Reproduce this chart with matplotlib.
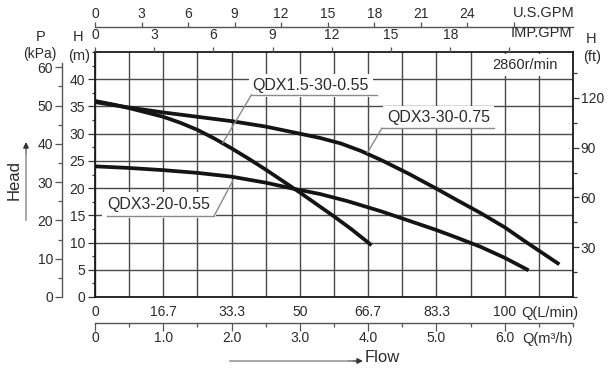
import matplotlib
matplotlib.use('Agg')
import matplotlib.pyplot as plt
from matplotlib.ticker import MultipleLocator

plt.rcParams['font.family'] = ['Liberation Sans', 'DejaVu Sans']

# ---------------- data (flow in m3/h, head in m) ----------------
q_a = [0, 0.25, 0.5, 0.75, 1.0, 1.25, 1.5, 1.75, 2.0, 2.25, 2.5, 2.75, 3.0, 3.25, 3.5, 3.75, 4.05]
h_a = [36.0, 35.4, 34.7, 33.9, 33.1, 32.0, 30.7, 29.1, 27.3, 25.4, 23.4, 21.3, 19.2, 17.0, 14.8, 12.5, 9.5]
name_a = 'QDX1.5-30-0.55'

q_b = [0, 0.5, 1.0, 1.5, 2.0, 2.5, 3.0, 3.3, 3.6, 3.9, 4.2, 4.6, 5.0, 5.3, 5.65, 6.0, 6.3, 6.8]
h_b = [35.8, 34.8, 33.9, 33.1, 32.3, 31.3, 30.0, 29.2, 28.2, 26.8, 25.1, 22.6, 19.9, 17.8, 15.4, 12.8, 10.2, 6.0]
name_b = 'QDX3-30-0.75'

q_c = [0, 0.5, 1.0, 1.5, 2.0, 2.5, 2.9, 3.3, 3.7, 4.2, 4.6, 5.0, 5.3, 5.65, 6.0, 6.35]
h_c = [24.0, 23.7, 23.3, 22.8, 22.1, 21.0, 19.9, 18.9, 17.6, 15.7, 14.0, 12.3, 10.9, 9.2, 7.2, 4.9]
name_c = 'QDX3-20-0.55'

h_ticks = [0, 5, 10, 15, 20, 25, 30, 35, 40]
p_ticks = [0, 10, 20, 30, 40, 50, 60]
ft_ticks = [30, 60, 90, 120]
usgpm_ticks = [0, 3, 6, 9, 12, 15, 18, 21, 24, 27]
usgpm_labels = ['0', '3', '6', '9', '12', '15', '18', '21', '24', '']
imp_ticks = [0, 3, 6, 9, 12, 15, 18, 21]
imp_labels = ['0', '3', '6', '9', '12', '15', '18', '']
lmin_ticks = [0, 100/6, 200/6, 50, 400/6, 500/6, 100]
lmin_labels = ['0', '16.7', '33.3', '50', '66.7', '83.3', '100']
m3h_ticks = [0, 1, 2, 3, 4, 5, 6]
m3h_labels = ['0', '1.0', '2.0', '3.0', '4.0', '5.0', '6.0']
speed_text = '2860r/min'

# unit conversions (as drawn on the chart)
M_TO_FT = 3.2808
M_TO_P = 1.4219
M3H_TO_USGPM = 4.40
M3H_TO_IMP = 3.46
M3H_TO_LMIN = 100 / 6

QMAX, HMAX = 7.0, 45.0

# ---------------- figure layout ----------------
W, H = 613, 368
fig = plt.figure(figsize=(W / 100, H / 100), dpi=100)
L, R, T, B = 95, 573, 52, 297
rect = [L / W, 1 - B / H, (R - L) / W, (B - T) / H]

def px(x, y):
    return x / W, 1 - y / H

TXT = '#2b2b2b'
GRID = '#4a4a4a'
FS = 10

ax = fig.add_axes(rect)
ax.set_xlim(0, QMAX)
ax.set_ylim(0, HMAX)
ax.set_axisbelow(True)
ax.xaxis.set_major_locator(MultipleLocator(0.5))
ax.yaxis.set_major_locator(MultipleLocator(5))
ax.grid(True, color=GRID, lw=1.0)
ax.tick_params(axis='x', length=0, labelbottom=False)
for s in ax.spines.values():
    s.set_linewidth(1.3)
    s.set_color('#1a1a1a')
ax.set_yticks(h_ticks)
ax.yaxis.set_minor_locator(MultipleLocator(2.5))
ax.tick_params(axis='y', which='major', direction='out', length=5, width=0.9,
               pad=2, labelsize=FS, colors='#333333', labelcolor=TXT)
ax.tick_params(axis='y', which='minor', direction='out', length=2.5, width=0.9,
               colors='#333333')

# curves
for q, h in ((q_a, h_a), (q_b, h_b), (q_c, h_c)):
    ax.plot(q, h, color='#141414', lw=2.7, solid_capstyle='butt',
            solid_joinstyle='round', zorder=3)

# curve labels with underline + leader
LEAD = '#8a8a8a'
ax.text(2.31, 38.9, name_a, ha='left', va='center', fontsize=11.5, color=TXT,
        bbox=dict(fc='white', ec='none', pad=3), zorder=4)
ax.plot([2.28, 4.13], [37.1, 37.1], color=LEAD, lw=1.0, zorder=5)
ax.plot([2.29, 1.87], [37.1, 28.3], color=LEAD, lw=1.0, zorder=5)

ax.text(4.28, 33.0, name_b, ha='left', va='center', fontsize=11.5, color=TXT,
        bbox=dict(fc='white', ec='none', pad=3), zorder=4)
ax.plot([4.20, 5.85], [31.0, 31.0], color=LEAD, lw=1.0, zorder=5)
ax.plot([4.20, 3.99], [31.0, 26.5], color=LEAD, lw=1.0, zorder=5)

ax.text(0.18, 16.9, name_c, ha='left', va='center', fontsize=11.5, color=TXT,
        bbox=dict(fc='white', ec='none', pad=4), zorder=4)
ax.plot([0.17, 1.74], [14.8, 14.8], color=LEAD, lw=1.0, zorder=5)
ax.plot([1.74, 2.02], [14.8, 21.4], color=LEAD, lw=1.0, zorder=5)

ax.text(6.77, 42.6, speed_text, ha='right', va='center', fontsize=10.5, color=TXT,
        bbox=dict(fc='white', ec='none', pad=3), zorder=4)

def overlay():
    a = fig.add_axes(rect)
    a.patch.set_visible(False)
    for s in a.spines.values():
        s.set_visible(False)
    a.set_xticks([])
    a.set_yticks([])
    return a

# right ft axis
ax_ft = overlay()
ax_ft.set_ylim(0, HMAX * M_TO_FT)
ax_ft.yaxis.tick_right()
ax_ft.set_yticks(ft_ticks)
ax_ft.yaxis.set_minor_locator(MultipleLocator(15))
ax_ft.tick_params(axis='y', which='major', direction='out', length=4, width=0.9,
                  pad=1.5, labelsize=FS, colors='#333333', labelcolor=TXT)
ax_ft.tick_params(axis='y', which='minor', direction='out', length=3, width=0.9,
                  colors='#333333')

# P axis
ax_p = overlay()
ax_p.set_ylim(0, HMAX * M_TO_P)
ax_p.spines['left'].set_visible(True)
ax_p.spines['left'].set_position(('outward', 33 * 0.72))
ax_p.spines['left'].set_bounds(0, 61.2)
ax_p.spines['left'].set_color('#555555')
ax_p.spines['left'].set_linewidth(1.0)
ax_p.set_yticks(p_ticks)
ax_p.yaxis.set_minor_locator(MultipleLocator(5))
ax_p.tick_params(axis='y', which='major', direction='out', length=5, width=0.9,
                 pad=1.5, labelsize=FS, colors='#555555', labelcolor=TXT)
ax_p.tick_params(axis='y', which='minor', direction='out', length=3, width=0.9,
                 colors='#555555')

# top US GPM axis
ax_us = overlay()
ax_us.set_xlim(0, QMAX * M3H_TO_USGPM)
ax_us.spines['top'].set_visible(True)
ax_us.spines['top'].set_position(('outward', 25 * 0.72))
ax_us.spines['top'].set_color('#555555')
ax_us.spines['top'].set_linewidth(1.0)
ax_us.xaxis.tick_top()
ax_us.set_xticks(usgpm_ticks)
ax_us.set_xticklabels(usgpm_labels)
ax_us.tick_params(axis='x', direction='out', length=3.5, width=0.9, pad=0.5,
                  labelsize=FS, colors='#555555', labelcolor=TXT)

# top IMP GPM axis
ax_imp = overlay()
ax_imp.set_xlim(0, QMAX * M3H_TO_IMP)
ax_imp.xaxis.tick_top()
ax_imp.set_xticks(imp_ticks)
ax_imp.set_xticklabels(imp_labels)
ax_imp.tick_params(axis='x', direction='out', length=3.5, width=0.9, pad=4,
                   labelsize=FS, colors='#555555', labelcolor=TXT)

# bottom L/min labels
ax_l = overlay()
ax_l.set_xlim(0, QMAX * M3H_TO_LMIN)
ax_l.set_xticks(lmin_ticks)
ax_l.set_xticklabels(lmin_labels)
ax_l.tick_params(axis='x', length=0, pad=6, labelsize=FS, labelcolor=TXT)

# bottom m3/h axis
ax_m = overlay()
ax_m.set_xlim(0, QMAX)
ax_m.spines['bottom'].set_visible(True)
ax_m.spines['bottom'].set_position(('outward', 26 * 0.72))
ax_m.spines['bottom'].set_color('#555555')
ax_m.spines['bottom'].set_linewidth(1.0)
ax_m.set_xticks(m3h_ticks)
ax_m.set_xticklabels(m3h_labels)
ax_m.xaxis.set_minor_locator(MultipleLocator(0.5))
ax_m.tick_params(axis='x', which='major', direction='out', length=5.5, width=0.9,
                 pad=0.5, labelsize=FS, colors='#555555', labelcolor=TXT)
ax_m.tick_params(axis='x', which='minor', direction='out', length=3, width=0.9,
                 colors='#555555')

# axis unit texts
fig.text(*px(41, 37), 'P', ha='center', va='center', fontsize=10.5, color=TXT)
fig.text(*px(40, 54), '(kPa)', ha='center', va='center', fontsize=10, color=TXT)
fig.text(*px(78, 37), 'H', ha='center', va='center', fontsize=10.5, color=TXT)
fig.text(*px(79, 56), '(m)', ha='center', va='center', fontsize=10.5, color=TXT)
fig.text(*px(591, 39), 'H', ha='center', va='center', fontsize=10.5, color=TXT)
fig.text(*px(592, 57), '(ft)', ha='center', va='center', fontsize=10.5, color=TXT)
fig.text(*px(513, 13), 'U.S.GPM', ha='left', va='center', fontsize=10.5, color=TXT)
fig.text(*px(511, 33), 'IMP.GPM', ha='left', va='center', fontsize=10.5, color=TXT)
fig.text(*px(521, 312.5), 'Q(L/min)', ha='left', va='center', fontsize=10.5, color=TXT)
fig.text(*px(522, 339.5), 'Q(m³/h)', ha='left', va='center', fontsize=10.5, color=TXT)

# Head / Flow arrows
fig.text(*px(14, 180), 'Head', ha='center', va='center', rotation=90,
         fontsize=12, color=TXT)
fig.add_artist(plt.Line2D([px(26, 0)[0]] * 2, [px(0, 220)[1], px(0, 150)[1]],
                          color='#999999', lw=1.2))
ax.annotate('', xy=px(26, 142), xytext=px(26, 154), xycoords='figure fraction',
            textcoords='figure fraction',
            arrowprops=dict(arrowstyle='-|>', color='#333333', lw=1.0,
                            mutation_scale=8, shrinkA=0, shrinkB=0))

fig.add_artist(plt.Line2D([px(230, 0)[0], px(352, 0)[0]], [px(0, 361)[1]] * 2,
                          color='#999999', lw=1.2))
ax.annotate('', xy=px(363, 361), xytext=px(348, 361), xycoords='figure fraction',
            textcoords='figure fraction',
            arrowprops=dict(arrowstyle='-|>', color='#333333', lw=1.0,
                            mutation_scale=8, shrinkA=0, shrinkB=0))
fig.text(*px(365, 358), 'Flow', ha='left', va='center', fontsize=12, color=TXT)

fig.savefig('out.png', dpi=100)
